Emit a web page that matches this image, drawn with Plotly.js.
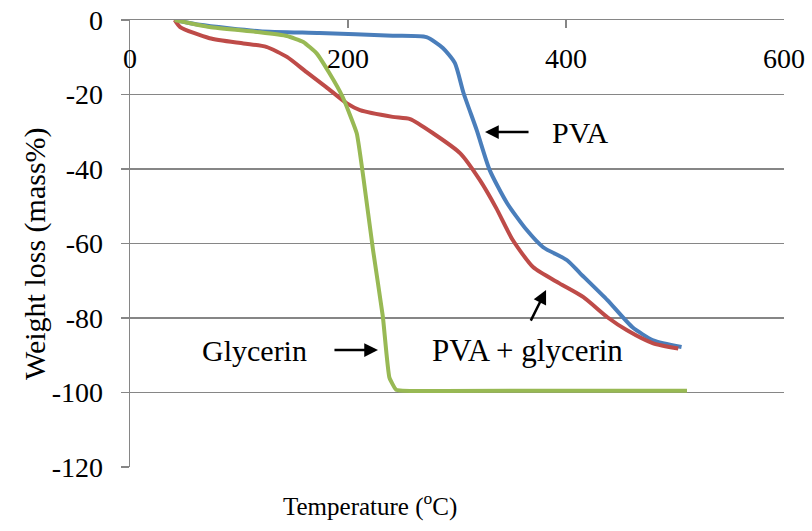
<!DOCTYPE html>
<html>
<head>
<meta charset="utf-8">
<script src="https://cdn.plot.ly/plotly-3.0.1.min.js"></script>
<style>
  html, body { margin: 0; padding: 0; background: #ffffff; }
  #chart { width: 812px; height: 531px; }
</style>
</head>
<body>
<div id="chart"></div>
<script>
// Temperature (°C) and weight loss (mass%)
const pvaTemp = [41, 64, 119, 174, 241, 272, 287, 298, 306, 318, 330, 346, 364, 379, 401, 413, 438, 461, 480, 506];
const pvaLoss = [0, -1.3, -3.0, -3.5, -4.2, -4.6, -7.5, -11.5, -19.6, -29.5, -40.3, -49.2, -56.4, -61, -64.5, -68, -75.2, -82.5, -86, -87.8];

const mixTemp = [41, 46, 73, 104, 125, 144, 162, 180, 199, 211, 241, 257, 278, 303, 321, 336, 351, 370, 394, 416, 438, 456, 480, 503];
const mixLoss = [0, -1.9, -4.9, -6.3, -7.2, -9.9, -14, -18, -22.4, -24.2, -26, -26.6, -30.4, -35.8, -43, -50.5, -59, -66.4, -70.7, -74.4, -79.8, -83.3, -86.8, -88.2];

const glyTemp = [41, 73, 119, 144, 159, 171, 183, 195, 208, 214, 223, 232, 238, 244, 250, 400, 511];
const glyLoss = [0, -1.9, -3.3, -4.3, -5.9, -8.9, -14.3, -20.6, -30.4, -42.1, -61.8, -79.7, -96, -99.2, -99.5, -99.5, -99.5];

const xTicks = [0, 200, 400, 600];
const yTicks = [0, -20, -40, -60, -80, -100, -120];

const serif = 'Liberation Serif';
const gray = '#868686';

const traces = [
  { x: pvaTemp, y: pvaLoss, name: 'PVA', mode: 'lines', line: { color: '#4A7EBB', width: 4, shape: 'spline', smoothing: 0.6 } },
  { x: mixTemp, y: mixLoss, name: 'PVA + glycerin', mode: 'lines', line: { color: '#BE4B48', width: 4, shape: 'spline', smoothing: 0.6 } },
  { x: glyTemp, y: glyLoss, name: 'Glycerin', mode: 'lines', xaxis: 'x2', line: { color: '#98B954', width: 4, shape: 'spline', smoothing: 0.4 } }
];

const layout = {
  width: 812, height: 531,
  margin: { l: 130, r: 28, t: 20, b: 64 },
  paper_bgcolor: '#ffffff', plot_bgcolor: '#ffffff',
  showlegend: false,
  font: { family: serif, color: '#000000' },
  xaxis: {
    range: [0, 600], tickvals: xTicks,
    side: 'top', ticks: 'inside', ticklen: 8, tickcolor: gray, tickwidth: 1.3,
    showticklabels: false,
    showline: true, linecolor: gray, linewidth: 1.3,
    showgrid: false, zeroline: false
  },
  xaxis2: {
    range: [0, 600], tickvals: xTicks, ticktext: xTicks.map(String),
    overlaying: 'x', matches: 'x', anchor: 'free', position: 0.958, side: 'bottom',
    ticks: '', showline: false, showgrid: false, zeroline: false,
    tickfont: { family: serif, size: 28, color: '#000000' }
  },
  yaxis: {
    range: [-120, 0], tickvals: yTicks, ticktext: yTicks.map(String),
    ticks: 'outside', ticklen: 8, tickcolor: gray, tickwidth: 1.3,
    ticklabelstandoff: 12,
    showline: true, linecolor: gray, linewidth: 1.3,
    showgrid: true, gridcolor: gray, gridwidth: 1.3, zeroline: false,
    tickfont: { family: serif, size: 28, color: '#000000' }
  },
  annotations: [
    { xref: 'paper', yref: 'paper', x: -0.1453, y: 0.4787, text: 'Weight loss (mass%)', textangle: -90,
      showarrow: false, xanchor: 'center', yanchor: 'middle', font: { family: serif, size: 30, color: '#000000' } },
    { xref: 'paper', yref: 'paper', x: 0.367, y: -0.085, text: 'Temperature (<sup>o</sup>C)',
      showarrow: false, xanchor: 'center', yanchor: 'middle', font: { family: serif, size: 25, color: '#000000' } },
    { xref: 'x', yref: 'y', x: 385.3, y: -30.1, text: 'PVA', showarrow: false, xanchor: 'left', yanchor: 'middle',
      font: { family: serif, size: 30, color: '#000000' } },
    { xref: 'x', yref: 'y', x: 64.2, y: -88.6, text: 'Glycerin', showarrow: false, xanchor: 'left', yanchor: 'middle',
      font: { family: serif, size: 30, color: '#000000' } },
    { xref: 'x', yref: 'y', x: 275.2, y: -88.6, text: 'PVA + glycerin', showarrow: false, xanchor: 'left', yanchor: 'middle',
      font: { family: serif, size: 31, color: '#000000' } },
    { xref: 'x', yref: 'y', axref: 'x', ayref: 'y', x: 325.7, y: -30.1, ax: 367, ay: -30.1, text: '',
      showarrow: true, arrowhead: 2, arrowsize: 1.1, arrowwidth: 2.5, arrowcolor: '#000000', standoff: 0 },
    { xref: 'x', yref: 'y', axref: 'x', ayref: 'y', x: 227.5, y: -88.6, ax: 186.2, ay: -88.6, text: '',
      showarrow: true, arrowhead: 2, arrowsize: 1.1, arrowwidth: 2.5, arrowcolor: '#000000', standoff: 0 },
    { xref: 'x', yref: 'y', axref: 'x', ayref: 'y', x: 381.7, y: -72.5, ax: 367, ay: -81.1, text: '',
      showarrow: true, arrowhead: 2, arrowsize: 1.1, arrowwidth: 2.5, arrowcolor: '#000000', standoff: 0 }
  ]
};

Plotly.newPlot('chart', traces, layout, { displayModeBar: false, staticPlot: true });
</script>
</body>
</html>
